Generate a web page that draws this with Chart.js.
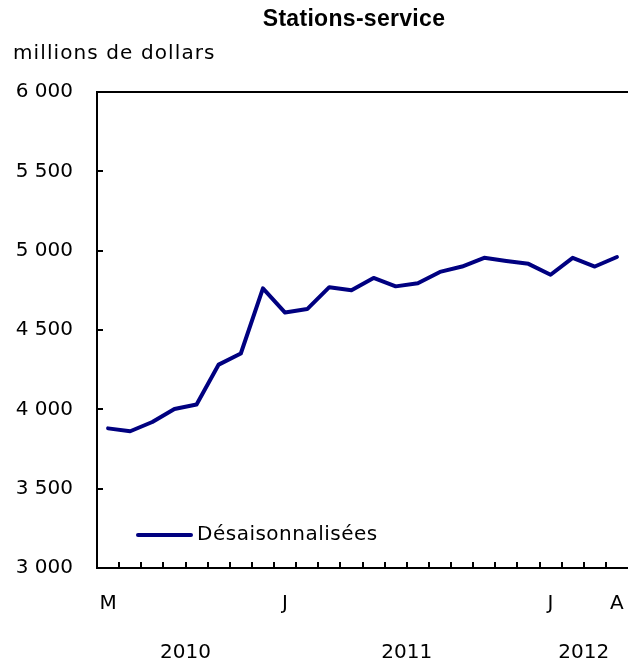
<!DOCTYPE html>
<html>
<head>
<meta charset="utf-8">
<script src="https://cdn.jsdelivr.net/npm/chart.js@4"></script>
<style>
  html, body { margin: 0; padding: 0; background: #fff; overflow: hidden; }
  #wrap { width: 628px; height: 662px; }
</style>
</head>
<body>
<div id="wrap"><canvas id="chart" width="628" height="662"></canvas></div>
<script>
// Data: monthly sales, May 2010 to April 2012
const months = ['mai 2010', 'juin 2010', 'juil. 2010', 'août 2010', 'sept. 2010', 'oct. 2010', 'nov. 2010', 'déc. 2010',
  'janv. 2011', 'févr. 2011', 'mars 2011', 'avr. 2011', 'mai 2011', 'juin 2011', 'juil. 2011', 'août 2011',
  'sept. 2011', 'oct. 2011', 'nov. 2011', 'déc. 2011', 'janv. 2012', 'févr. 2012', 'mars 2012', 'avr. 2012'];
const tickLabels = ['M', '', '', '', '', '', '', '', 'J', '', '', '', '', '', '', '', '', '', '', '', 'J', '', '', 'A'];
const seasonallyAdjusted = [3880, 3862, 3920, 4002, 4030, 4282, 4352, 4762, 4610, 4632, 4770, 4750,
  4828, 4775, 4795, 4866, 4900, 4955, 4935, 4917, 4848, 4955, 4900, 4960];
const years = ['2010', '2011', '2012'];
const yearFirst = [0, 8, 20];
const yearLast = [7, 19, 23];

const FONT = 'DejaVu Sans';
const NAVY = '#000080';

function spaced(v) {
  return String(v).replace(/\B(?=(\d{3})+(?!\d))/g, ' ');
}

/**
 * Draws the title, unit label, inward tick marks, top frame line,
 * year row and the legend placed inside the plot.
 */
const decorations = {
  id: 'decorations',
  afterDraw(c) {
    const ctx = c.ctx;
    const area = c.chartArea;
    const x = c.scales.x;
    const y = c.scales.y;
    ctx.save();

    ctx.fillStyle = '#000';
    ctx.font = 'bold 23px "Liberation Sans", Arial, sans-serif';
    ctx.textAlign = 'center';
    ctx.textBaseline = 'middle';
    ctx.letterSpacing = '0.3px';
    ctx.fillText('Stations-service', 354, 20);

    ctx.font = '20px "' + FONT + '"';
    ctx.textAlign = 'left';
    ctx.letterSpacing = '1.1px';
    ctx.fillText('millions de dollars', 13, 54);
    ctx.letterSpacing = '0px';

    // top frame line
    ctx.strokeStyle = '#000';
    ctx.lineWidth = 2;
    ctx.beginPath();
    ctx.moveTo(area.left - 1, area.top);
    ctx.lineTo(c.width, area.top);
    ctx.stroke();

    // inward ticks
    ctx.lineWidth = 2;
    ctx.beginPath();
    y.ticks.forEach(t => {
      const py = Math.round(y.getPixelForValue(t.value));
      ctx.moveTo(area.left, py);
      ctx.lineTo(area.left + 6, py);
    });
    const half = (x.getPixelForValue(1) - x.getPixelForValue(0)) / 2;
    for (let i = 1; i < months.length; i++) {
      const px = Math.round(x.getPixelForValue(i) - half);
      ctx.moveTo(px, area.bottom);
      ctx.lineTo(px, area.bottom - 6);
    }
    ctx.stroke();

    // year row
    ctx.textAlign = 'center';
    ctx.textBaseline = 'middle';
    years.forEach((yr, i) => {
      const cx = (x.getPixelForValue(yearFirst[i]) + x.getPixelForValue(yearLast[i])) / 2;
      ctx.fillText(yr, cx, 653);
    });

    // legend inside plot
    const ly = area.bottom - 33;
    ctx.strokeStyle = NAVY;
    ctx.lineWidth = 4;
    ctx.lineCap = 'round';
    ctx.beginPath();
    ctx.moveTo(area.left + 41, ly);
    ctx.lineTo(area.left + 94, ly);
    ctx.stroke();
    ctx.fillStyle = '#000';
    ctx.textAlign = 'left';
    ctx.letterSpacing = '0.5px';
    ctx.fillText(c.data.datasets[0].label, area.left + 100, ly);

    ctx.restore();
  }
};

new Chart(document.getElementById('chart'), {
  type: 'line',
  data: {
    labels: months,
    datasets: [{
      label: 'Désaisonnalisées',
      data: seasonallyAdjusted,
      borderColor: NAVY,
      borderWidth: 4,
      pointRadius: 0,
      tension: 0,
      borderJoinStyle: 'round',
      borderCapStyle: 'round'
    }]
  },
  options: {
    responsive: false,
    animation: false,
    layout: { padding: { top: 92, left: 0, right: 0, bottom: 0 } },
    plugins: {
      legend: { display: false },
      title: { display: false },
      tooltip: { enabled: false }
    },
    scales: {
      x: {
        offset: true,
        grid: { display: false, drawTicks: false },
        border: { display: true, color: '#000', width: 2 },
        ticks: {
          autoSkip: false,
          maxRotation: 0,
          padding: 24,
          color: '#000',
          font: { family: FONT, size: 20 },
          callback: (v, i) => tickLabels[i]
        },
        afterFit: s => { s.height = 94; s.paddingLeft = 0; s.paddingRight = 0; }
      },
      y: {
        min: 3000,
        max: 6000,
        grid: { display: false, drawTicks: false },
        border: { display: true, color: '#000', width: 2 },
        ticks: {
          stepSize: 500,
          padding: 24,
          color: '#000',
          font: { family: FONT, size: 20 },
          callback: v => spaced(v)
        },
        afterFit: s => { s.width = 97; s.paddingTop = 0; s.paddingBottom = 0; }
      }
    }
  },
  plugins: [decorations]
});
</script>
</body>
</html>
